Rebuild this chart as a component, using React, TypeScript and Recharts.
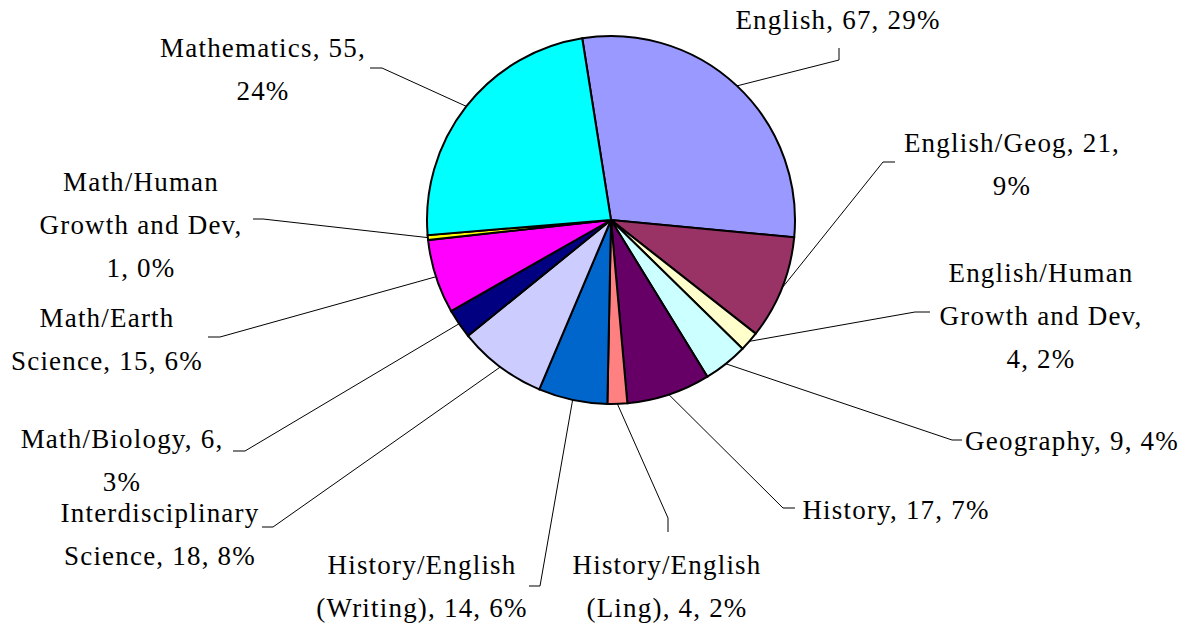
import { PieChart, Pie, Cell } from 'recharts'

// subject areas, clockwise from the top
const categories = [
  'English',
  'English/Geog',
  'English/Human Growth and Dev',
  'Geography',
  'History',
  'History/English (Ling)',
  'History/English (Writing)',
  'Interdisciplinary Science',
  'Math/Biology',
  'Math/Earth Science',
  'Math/Human Growth and Dev',
  'Mathematics',
]

const counts = [67, 21, 4, 9, 17, 4, 14, 18, 6, 15, 1, 55]

const sliceColors = [
  '#9999FF', '#993366', '#FFFFCC', '#CCFFFF', '#660066', '#FF8080',
  '#0066CC', '#CCCCFF', '#000080', '#FF00FF', '#FFFF00', '#00FFFF',
]

// words per text line of each data label
const labelWrap = [[3], [2, 1], [1, 3, 2], [3], [3], [1, 3], [1, 3], [1, 3], [2, 1], [1, 3], [1, 3, 2], [2, 1]]

const data = categories.map((name, i) => ({ name, value: counts[i] }))

// label placement: text centre, leader elbow and leader end
const labelSpots = [
  { tx: 838, ty: 20, elbow: [839, 60], end: [839, 48] },
  { tx: 1012, ty: 143, elbow: [883, 162], end: [895, 162] },
  { tx: 1041, ty: 273, elbow: [915, 312], end: [930, 312] },
  { tx: 1072, ty: 441, elbow: [952, 440], end: [962, 440] },
  { tx: 896, ty: 510, elbow: [783, 508], end: [795, 508] },
  { tx: 667, ty: 565, elbow: [668, 518], end: [668, 532] },
  { tx: 422, ty: 565, elbow: [540, 586], end: [529, 586] },
  { tx: 160, ty: 513, elbow: [273, 527], end: [262, 527] },
  { tx: 122, ty: 439, elbow: [245, 451], end: [233, 451] },
  { tx: 107, ty: 318, elbow: [220, 337], end: [208, 337] },
  { tx: 141, ty: 182, elbow: [263, 219], end: [253, 219] },
  { tx: 263, ty: 48, elbow: [382, 68], end: [370, 68] },
]

const RADIAN = Math.PI / 180
const LINE_HEIGHT = 43
const FONT = "'Liberation Serif', 'Times New Roman', serif"

const renderLabel = (props: any) => {
  const { cx, cy, midAngle, outerRadius, name, value, percent, index } = props
  const spot = labelSpots[index]
  const sx = cx + outerRadius * Math.cos(-midAngle * RADIAN)
  const sy = cy + outerRadius * Math.sin(-midAngle * RADIAN)
  const words = `${name}, ${value}, ${Math.round(percent * 100)}%`.split(' ')
  const lines: string[] = []
  let pos = 0
  labelWrap[index].forEach((n) => {
    lines.push(words.slice(pos, pos + n).join(' '))
    pos += n
  })
  return (
    <g key={`lbl-${index}`}>
      <polyline
        points={`${sx},${sy} ${spot.elbow[0]},${spot.elbow[1]} ${spot.end[0]},${spot.end[1]}`}
        fill="none"
        stroke="#000"
        strokeWidth={1}
      />
      <text
        x={spot.tx}
        y={spot.ty}
        textAnchor="middle"
        dominantBaseline="central"
        fill="#000"
        fontFamily={FONT}
        fontSize={27}
        letterSpacing={1.2}
        style={{ fontFamily: FONT }}
      >
        {lines.map((line, i) => (
          <tspan key={i} x={spot.tx} y={spot.ty + i * LINE_HEIGHT}>
            {line}
          </tspan>
        ))}
      </text>
    </g>
  )
}

export default function App() {
  return (
    <div style={{ position: 'absolute', left: 0, top: 0, width: 1200, height: 628, background: '#fff', fontFamily: FONT }}>
      <PieChart width={1200} height={628} margin={{ top: 0, right: 0, bottom: 0, left: 0 }}>
        <Pie
          data={data}
          dataKey="value"
          nameKey="name"
          cx={611}
          cy={220}
          outerRadius={184}
          startAngle={99}
          endAngle={-261}
          stroke="#000"
          strokeWidth={2}
          labelLine={false}
          label={renderLabel}
          isAnimationActive={false}
        >
          {data.map((d, i) => (
            <Cell key={d.name} fill={sliceColors[i]} />
          ))}
        </Pie>
      </PieChart>
    </div>
  )
}
